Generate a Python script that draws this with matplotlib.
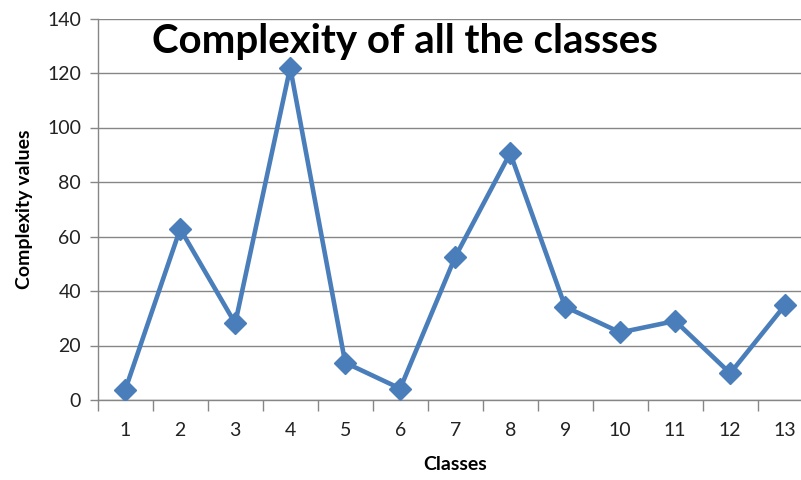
import matplotlib
matplotlib.use("Agg")
import matplotlib.pyplot as plt
import numpy as np

classes = list(range(1, 14))
values = [3.7, 62.8, 28.1, 122, 13.7, 4.2, 52.5, 90.6, 34.2, 24.8, 29.0, 9.8, 34.9]
yticks = [0, 20, 40, 60, 80, 100, 120, 140]

plt.rcParams['font.family'] = ['Lato', 'DejaVu Sans']

fig = plt.figure(figsize=(8.01, 4.80), dpi=100)
ax = fig.add_axes([97.7/801, 1-400/480, 715/801, (400-18.5)/480])

ax.plot(classes, values, color='#4A7EBB', lw=3.3, marker='D', markersize=11,
        markerfacecolor='#4A7EBB', markeredgecolor='#4A7EBB', zorder=3)

ax.set_xlim(0.5, 13.5)
ax.set_ylim(0, 140)
ax.set_yticks(yticks)
ax.set_xticks(classes)
ax.set_xticks(np.arange(0.5, 13.6, 1), minor=True)
ax.tick_params(axis='x', which='major', length=0, labelsize=14, pad=16, colors='#000000')
ax.tick_params(axis='x', which='minor', length=8, width=1, color='#868686')
ax.tick_params(axis='y', which='major', length=6, width=1, color='#868686', labelsize=14, pad=6)
for lab in ax.get_xticklabels() + ax.get_yticklabels():
    lab.set_color('#222222')
ax.grid(axis='y', color='#868686', lw=1)
ax.set_axisbelow(True)
for s in ['top', 'right']:
    ax.spines[s].set_visible(False)
for s in ['left', 'bottom']:
    ax.spines[s].set_color('#868686')
    ax.spines[s].set_linewidth(1)

ax.set_xlabel('Classes', fontsize=14, fontweight='bold', labelpad=12)
ax.set_ylabel('Complexity values', fontsize=14, fontweight='bold', labelpad=10)
fig.text(405/801, 1-41/480, 'Complexity of all the classes', fontsize=29,
         fontweight='bold', ha='center', va='center')

fig.savefig('out.png', dpi=100)
